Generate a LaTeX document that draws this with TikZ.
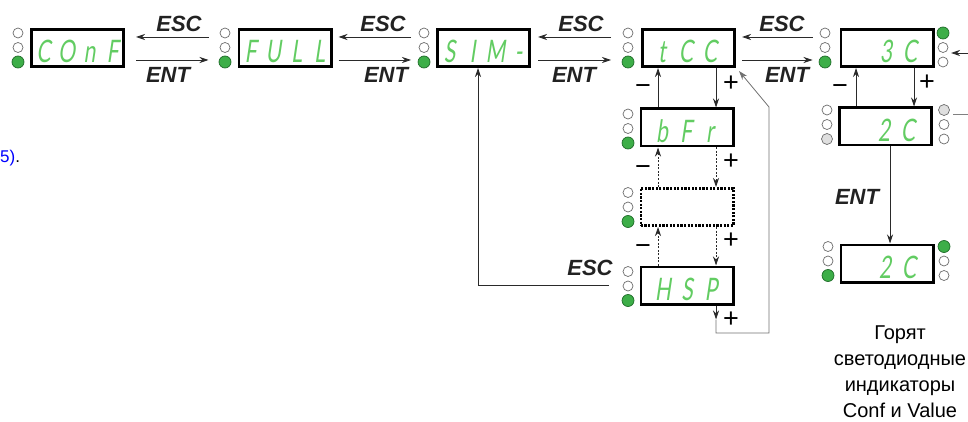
\documentclass[tikz,border=0pt]{standalone}
\usepackage{fontspec}
\setmainfont{Liberation Sans}
\newfontfamily\segfont[FakeSlant=0.15,FakeStretch=0.68]{Lato}
\usetikzlibrary{arrows.meta,calc}
\definecolor{seg}{HTML}{62CC62}
\definecolor{ledg}{HTML}{3DAE48}
\definecolor{ledgd}{HTML}{1E6B28}
\definecolor{linec}{HTML}{2A2A2A}
\definecolor{loopc}{HTML}{707070}
\definecolor{lbl}{HTML}{222222}
\newcommand{\segc}[1]{\makebox[23pt]{#1}}
\newcommand{\segd}[1]{\makebox[24pt]{#1}}
\tikzset{
  disp/.style={draw=black, line width=2.6pt, fill=white, minimum width=92.4pt, minimum height=37.4pt, inner sep=0pt},
  dispdot/.style={disp, dash pattern=on 2.2pt off 1.4pt},
  segtxt/.style={font=\segfont\fontsize{31}{31}\selectfont, text=seg, inner sep=0pt, anchor=base},
  arr/.style={-{Stealth[length=9pt,width=6pt]}, line width=0.8pt, draw=linec},
  arrdot/.style={arr, dash pattern=on 2pt off 1.5pt},
  keylbl/.style={font=\bfseries\itshape\fontsize{22}{22}\selectfont, text=lbl, inner sep=0pt},
  pm/.style={font=\fontsize{27}{27}\selectfont, text=black, inner sep=0pt},
  ledoff/.style={draw=gray!85!black, fill=white, line width=0.7pt},
  ledon/.style={draw=ledgd, fill=ledg, line width=0.7pt},
  ledgr/.style={draw=gray!85!black, fill=gray!25, line width=0.7pt},
}
% x, top y, top style, middle style, bottom style, bottom radius
\newcommand{\ledcol}[6]{%
  \draw[#3] (#1,#2) circle (5pt);
  \draw[#4] ($(#1,#2)+(0,14.5)$) circle (5pt);
  \draw[#5] ($(#1,#2)+(0,29)$) circle (#6);
}
\begin{document}
\begin{tikzpicture}[x=1pt,y=-1pt]
\useasboundingbox (0,0) rectangle (968,422);

% stray caption fragment
\node[anchor=base west, inner sep=0pt, font=\fontsize{17}{17}\selectfont] (frag) at (0,163) {\textcolor{blue}{5)}.};

% displays
\node[disp] (conf) at (77.5,48) {};
\node[disp] (full) at (285,48) {};
\node[disp] (sim) at (483.5,48) {};
\node[disp] (tcc) at (688.5,48) {};
\node[disp] (c3) at (887,48) {};
\node[disp] (bfr) at (687,127.5) {};
\node[dispdot] (dots) at (687,207) {};
\node[disp] (hsp) at (687,285.5) {};
\node[disp] (c2) at (885.5,126.5) {};
\node[disp] (c2f) at (887,263.5) {};

% display texts
\node[segtxt] (tconf) at (78,63) {\segc{C}\segc{O}\segc{n}\segc{F}};
\node[segtxt] (tfull) at (285,63) {\segc{F}\segc{U}\segc{L}\segc{L}};
\node[segtxt] (tsim) at (484,63) {\segc{S}\segc{I}\segc{M}\segc{-}};
\node[segtxt] (ttcc) at (686,63) {\segd{t}\segd{C}\segd{C}};
\node[segtxt] (tbfr) at (686,142.5) {\segd{b}\segd{F}\segd{r}};
\node[segtxt] (thsp) at (687,300.5) {\segd{H}\segd{S}\segd{P}};
\node[segtxt] (t3c) at (898,63) {\segd{3}\segd{C}};
\node[segtxt] (t2c) at (896,141.5) {\segd{2}\segd{C}};
\node[segtxt] (t2cf) at (897,278.5) {\segd{2}\segd{C}};

% LEDs
\ledcol{18}{33}{ledoff}{ledoff}{ledon}{6pt}
\ledcol{225}{33}{ledoff}{ledoff}{ledon}{6pt}
\ledcol{424}{33}{ledoff}{ledoff}{ledon}{6pt}
\ledcol{628}{33}{ledoff}{ledoff}{ledon}{6pt}
\ledcol{825}{33}{ledoff}{ledoff}{ledon}{6pt}
\draw[ledon] (943,33) circle (6pt);
\draw[ledoff] (943,47.5) circle (5pt);
\draw[ledoff] (943,62) circle (5pt);
\ledcol{628}{114}{ledoff}{ledoff}{ledon}{6pt}
\ledcol{628}{192.5}{ledoff}{ledoff}{ledon}{6pt}
\ledcol{628}{271.5}{ledoff}{ledoff}{ledon}{6pt}
\ledcol{827}{110}{ledoff}{ledoff}{ledgr}{5.5pt}
\draw[ledgr] (944,110) circle (5.5pt);
\draw[ledoff] (944,124.5) circle (5pt);
\draw[ledoff] (944,139) circle (5pt);
\ledcol{828}{246.5}{ledoff}{ledoff}{ledon}{6pt}
\draw[ledon] (944,246.5) circle (6pt);
\draw[ledoff] (944,261) circle (5pt);
\draw[ledoff] (944,275.5) circle (5pt);

% horizontal ESC / ENT arrows
\draw[arr] ([xshift=-29pt,yshift=11pt]full.west) -- ([xshift=11pt,yshift=11pt]conf.east);
\draw[arr] ([xshift=11pt,yshift=-12pt]conf.east) -- ([xshift=-29pt,yshift=-12pt]full.west);
\draw[arr] ([xshift=-25pt,yshift=11pt]sim.west) -- ([xshift=6pt,yshift=11pt]full.east);
\draw[arr] ([xshift=6pt,yshift=-12pt]full.east) -- ([xshift=-25pt,yshift=-12pt]sim.west);
\draw[arr] ([xshift=-30pt,yshift=11pt]tcc.west) -- ([xshift=7pt,yshift=11pt]sim.east);
\draw[arr] ([xshift=7pt,yshift=-12pt]sim.east) -- ([xshift=-30pt,yshift=-12pt]tcc.west);
\draw[arr] ([xshift=-27pt,yshift=11pt]c3.west) -- ([xshift=6pt,yshift=11pt]tcc.east);
\draw[arr] ([xshift=6pt,yshift=-12pt]tcc.east) -- ([xshift=-27pt,yshift=-12pt]c3.west);

\node[keylbl] (esc1) at (179,24) {ESC};
\node[keylbl] (ent1) at (168,75) {ENT};
\node[keylbl] (esc2) at (383,24) {ESC};
\node[keylbl] (ent2) at (386,75) {ENT};
\node[keylbl] (esc3) at (581,24) {ESC};
\node[keylbl] (ent3) at (574,75) {ENT};
\node[keylbl] (esc4) at (782,24) {ESC};
\node[keylbl] (ent4) at (787,75) {ENT};

% tCC column
\draw[arr] ([xshift=27.5pt]tcc.south) -- ([xshift=29pt]bfr.north);
\draw[arr] ([xshift=-29pt]bfr.north) -- ([xshift=-30.5pt]tcc.south);
\draw[arrdot] ([xshift=29pt]bfr.south) -- ([xshift=29pt]dots.north);
\draw[arrdot] ([xshift=-29pt]dots.north) -- ([xshift=-29pt]bfr.south);
\draw[arrdot] ([xshift=29pt]dots.south) -- ([xshift=29pt]hsp.north);
\draw[arrdot] ([xshift=-29pt]hsp.north) -- ([xshift=-29pt]dots.south);
\node[pm] (p1) at (731,84) {+};
\node[pm] (m1) at (643,90) {−};
\node[pm] (p2) at (731,162) {+};
\node[pm] (m2) at (643,171) {−};
\node[pm] (p3) at (731,241) {+};
\node[pm] (m3) at (643,250) {−};
\node[pm] (p4) at (731,320) {+};

% loop from HSP back to tCC
\coordinate (hspout) at ([xshift=29pt,yshift=-14pt]hsp.south);
\draw[arr] ([xshift=29pt]hsp.south) -- (hspout);
\draw[-{Stealth[length=9pt,width=6pt]}, line width=0.8pt, draw=loopc] (hspout) |- (769,333) -- (769,107) -- ([xshift=3pt,yshift=-3pt]tcc.south east);

% ESC from HSP to SIM
\node[keylbl] (esc5) at (590,268) {ESC};
\draw[arr] ([xshift=-31pt]hsp.west) -| ([xshift=-5.5pt]sim.south);

% 3C column
\draw[arr] ([xshift=27pt]c3.south) -- ([xshift=28.5pt]c2.north);
\draw[arr] ([xshift=-29.5pt]c2.north) -- ([xshift=-31pt]c3.south);
\node[pm] (p5) at (927,83) {+};
\node[pm] (m5) at (840,90) {−};
\coordinate (rin) at (968,53);
\draw[arr] (rin) -- (951,53);
\coordinate (rout) at (968,114);
\draw[line width=0.6pt, draw=gray] (953,114) -- (rout);
\draw[arr] ([xshift=4.5pt]c2.south) -- ([xshift=3pt]c2f.north);
\node[keylbl] (ent5) at (857,197) {ENT};

\node[align=center, font=\fontsize{20}{26}\selectfont, inner sep=0pt] (note) at (900,372) {Горят\\светодиодные\\индикаторы\\Conf и Value};
\end{tikzpicture}
\end{document}
